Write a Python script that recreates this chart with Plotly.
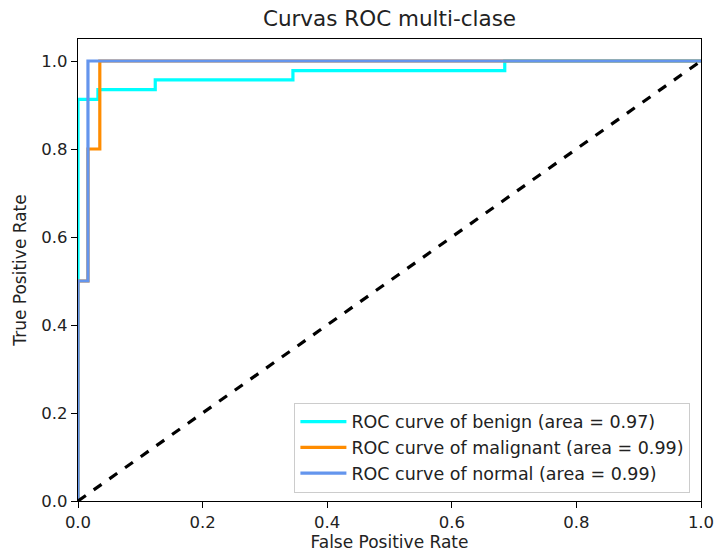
import plotly.graph_objects as go

benign_fpr = [0.0, 0.0, 0.032, 0.032, 0.124, 0.124, 0.345, 0.345, 0.685, 0.685, 1.0]
benign_tpr = [0.0, 0.913, 0.913, 0.935, 0.935, 0.957, 0.957, 0.978, 0.978, 1.0, 1.0]
malignant_fpr = [0.0, 0.0, 0.016, 0.016, 0.035, 0.035, 1.0]
malignant_tpr = [0.0, 0.5, 0.5, 0.8, 0.8, 1.0, 1.0]
normal_fpr = [0.0, 0.0, 0.016, 0.016, 1.0]
normal_tpr = [0.0, 0.5, 0.5, 1.0, 1.0]
names = ["benign", "malignant", "normal"]
aucs = [0.97, 0.99, 0.99]
colors = ["aqua", "darkorange", "cornflowerblue"]

fig = go.Figure()
for name, auc, col, fx, ty in zip(names, aucs, colors,
                                  [benign_fpr, malignant_fpr, normal_fpr],
                                  [benign_tpr, malignant_tpr, normal_tpr]):
    fig.add_trace(go.Scatter(x=fx, y=ty, mode="lines",
                             line=dict(color=col, width=3.2),
                             name=f"ROC curve of {name} (area = {auc:.2f})"))
fig.add_trace(go.Scatter(x=[0, 1], y=[0, 1], mode="lines",
                         line=dict(color="black", width=3.2, dash="dash"),
                         showlegend=False))

font = "DejaVu Sans"
axis_common = dict(showline=True, linecolor="black", linewidth=1.2, mirror=True,
                   ticks="outside", ticklen=6, tickcolor="black", showgrid=False,
                   zeroline=False, automargin=False,
                   tickfont=dict(size=16.5, color="#222222"))
fig.update_layout(
    width=716, height=557,
    margin=dict(l=78, r=15, t=39, b=56),
    plot_bgcolor="white", paper_bgcolor="white",
    font=dict(family=font, color="#222222"),
    title=dict(text="Curvas ROC multi-clase", x=0.5, xref="paper", y=1 - 18 / 557,
               xanchor="center", yanchor="middle", font=dict(size=21.5, color="#222222")),
    xaxis=dict(range=[0, 1], dtick=0.2, tickformat=".1f",
               title=dict(text="False Positive Rate", font=dict(size=17), standoff=5),
               **axis_common),
    yaxis=dict(range=[0, 1.05], tick0=0, dtick=0.2, tickformat=".1f",
               title=dict(text="True Positive Rate", font=dict(size=17), standoff=10),
               **axis_common),
    legend=dict(x=0.983, y=0.018, xanchor="right", yanchor="bottom",
                bgcolor="rgba(255,255,255,0.8)", bordercolor="#cccccc", borderwidth=1,
                font=dict(size=17.5), tracegroupgap=0, itemwidth=46),
)
fig.write_html("out.html")
